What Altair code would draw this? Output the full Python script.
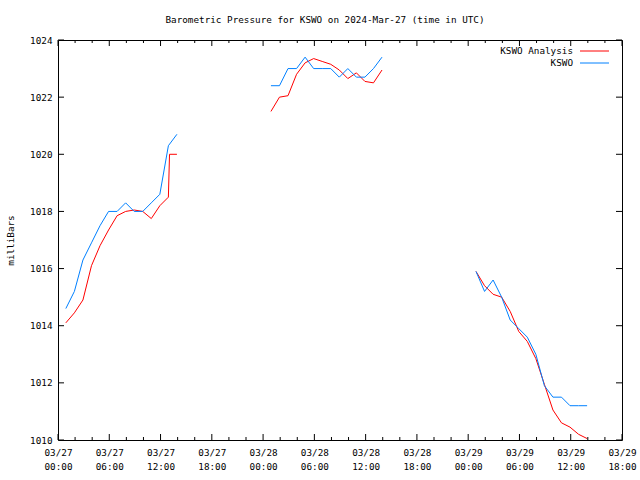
import altair as alt
import pandas as pd

TITLE = "Barometric Pressure for KSWO on 2024-Mar-27 (time in UTC)"
Y_TITLE = "milliBars"
FONT = "DejaVu Sans Mono"
FS = 9.3

series_names = ["KSWO Analysis", "KSWO"]
series_colors = ["#ff0000", "#0080ff"]

# ---- KSWO observations (blue) ----
obs_times_1 = ["2024-03-27T00:55:00Z", "2024-03-27T01:55:00Z", "2024-03-27T02:55:00Z", "2024-03-27T03:55:00Z",
               "2024-03-27T04:55:00Z", "2024-03-27T05:55:00Z", "2024-03-27T06:55:00Z", "2024-03-27T07:55:00Z",
               "2024-03-27T08:55:00Z", "2024-03-27T09:55:00Z", "2024-03-27T10:55:00Z", "2024-03-27T11:55:00Z",
               "2024-03-27T12:55:00Z", "2024-03-27T13:55:00Z"]
obs_vals_1 = [1014.6, 1015.2, 1016.3, 1016.9, 1017.5, 1018.0, 1018.0, 1018.3, 1018.0, 1018.0,
              1018.3, 1018.6, 1020.3, 1020.7]

obs_times_2 = ["2024-03-28T00:55:00Z", "2024-03-28T01:55:00Z", "2024-03-28T02:55:00Z", "2024-03-28T03:55:00Z",
               "2024-03-28T04:55:00Z", "2024-03-28T05:55:00Z", "2024-03-28T06:55:00Z", "2024-03-28T07:55:00Z",
               "2024-03-28T08:55:00Z", "2024-03-28T09:55:00Z", "2024-03-28T10:55:00Z", "2024-03-28T11:55:00Z",
               "2024-03-28T12:55:00Z", "2024-03-28T13:55:00Z"]
obs_vals_2 = [1022.4, 1022.4, 1023.0, 1023.0, 1023.4, 1023.0, 1023.0, 1023.0, 1022.7, 1023.0,
              1022.7, 1022.7, 1023.0, 1023.4]

obs_times_3 = ["2024-03-29T00:55:00Z", "2024-03-29T01:55:00Z", "2024-03-29T02:55:00Z", "2024-03-29T03:55:00Z",
               "2024-03-29T04:55:00Z", "2024-03-29T05:55:00Z", "2024-03-29T06:55:00Z", "2024-03-29T07:55:00Z",
               "2024-03-29T08:55:00Z", "2024-03-29T09:55:00Z", "2024-03-29T10:55:00Z", "2024-03-29T11:55:00Z",
               "2024-03-29T12:55:00Z", "2024-03-29T13:55:00Z"]
obs_vals_3 = [1015.9, 1015.2, 1015.6, 1015.0, 1014.2, 1013.9, 1013.6, 1013.0, 1011.9, 1011.5,
              1011.5, 1011.2, 1011.2, 1011.2]

# ---- KSWO Analysis (red) ----
ana_times_1 = ["2024-03-27T00:55:00Z", "2024-03-27T01:55:00Z", "2024-03-27T02:55:00Z", "2024-03-27T03:55:00Z",
               "2024-03-27T04:55:00Z", "2024-03-27T05:55:00Z", "2024-03-27T06:55:00Z", "2024-03-27T07:55:00Z",
               "2024-03-27T08:55:00Z", "2024-03-27T09:55:00Z", "2024-03-27T10:55:00Z", "2024-03-27T11:55:00Z",
               "2024-03-27T12:55:00Z", "2024-03-27T13:03:00Z", "2024-03-27T13:55:00Z"]
ana_vals_1 = [1014.1, 1014.45, 1014.9, 1016.1, 1016.8, 1017.35, 1017.85, 1018.0, 1018.05, 1018.0,
              1017.75, 1018.2, 1018.5, 1020.0, 1020.0]

ana_times_2 = obs_times_2
ana_vals_2 = [1021.5, 1022.0, 1022.05, 1022.8, 1023.2, 1023.35, 1023.25, 1023.15, 1022.95, 1022.65,
              1022.85, 1022.55, 1022.5, 1022.95]

ana_times_3 = obs_times_3
ana_vals_3 = [1015.9, 1015.4, 1015.1, 1015.0, 1014.5, 1013.8, 1013.45, 1012.85, 1011.95, 1011.05,
              1010.6, 1010.45, 1010.2, 1010.05]

y_ticks = [1010, 1012, 1014, 1016, 1018, 1020, 1022, 1024]


def frame(series, segments):
    rows = []
    for k, (times, vals) in enumerate(segments):
        for t, v in zip(times, vals):
            rows.append({"time": t, "value": v, "series": series, "segment": k})
    return pd.DataFrame(rows)


ana_df = frame(series_names[0], [(ana_times_1, ana_vals_1), (ana_times_2, ana_vals_2), (ana_times_3, ana_vals_3)])
obs_df = frame(series_names[1], [(obs_times_1, obs_vals_1), (obs_times_2, obs_vals_2), (obs_times_3, obs_vals_3)])

major = pd.date_range("2024-03-27T00:00:00Z", "2024-03-29T18:00:00Z", freq="6h")
minor_all = pd.date_range("2024-03-27T00:00:00Z", "2024-03-29T18:00:00Z", freq="2h")
minor = [t for t in minor_all if t.hour % 6 != 0]
major_df = pd.DataFrame({"time": [t.strftime("%Y-%m-%dT%H:%M:%SZ") for t in major]})
minor_df = pd.DataFrame({"time": [t.strftime("%Y-%m-%dT%H:%M:%SZ") for t in minor]})
ytick_df = pd.DataFrame({"value": y_ticks})

W, H = 564, 400

major_vals = [alt.DateTime(year=t.year, month=t.month, date=t.day, hours=t.hour, utc=True) for t in major]

x_scale = alt.Scale(type="utc",
                    domain=[alt.DateTime(year=2024, month=3, date=27, hours=0, utc=True),
                            alt.DateTime(year=2024, month=3, date=29, hours=18, utc=True)])
x_axis = alt.Axis(values=major_vals, ticks=False, tickSize=0, domain=False, grid=False, title=None,
                  labelExpr="[utcFormat(datum.value, '%m/%d'), utcFormat(datum.value, '%H:%M')]",
                  labelFont=FONT, labelFontSize=FS, labelColor="black", labelBaseline="top",
                  labelPadding=8, labelLineHeight=14, labelOverlap=False, labelFlush=False)
y_scale = alt.Scale(domain=[1010, 1024], nice=False, zero=False)
y_axis = alt.Axis(values=y_ticks, format="d", ticks=False, tickSize=0, domain=False, grid=False, title=Y_TITLE,
                  labelFont=FONT, labelFontSize=FS, labelColor="black", labelPadding=6,
                  titleFont=FONT, titleFontSize=FS, titleFontWeight="normal", titleColor="black",
                  titleAngle=270, titleX=-48, titleY=200, titleAlign="center", titleBaseline="middle")

X = alt.X("time:T", scale=x_scale, axis=x_axis)
Y = alt.Y("value:Q", scale=y_scale, axis=y_axis)
color_scale = alt.Scale(domain=series_names, range=series_colors)

red = alt.Chart(ana_df).mark_line(strokeWidth=1).encode(
    x=X, y=Y, color=alt.Color("series:N", scale=color_scale, legend=None), detail="segment:N")
blue = alt.Chart(obs_df).mark_line(strokeWidth=1).encode(
    x=X, y=Y, color=alt.Color("series:N", scale=color_scale, legend=None), detail="segment:N")

tick_layers = []
for df, ln in [(major_df, 6), (minor_df, 3)]:
    tick_layers.append(alt.Chart(df).mark_rule(color="black", strokeWidth=1).encode(
        x=X, y=alt.value(H), y2=alt.value(H - ln)))
    tick_layers.append(alt.Chart(df).mark_rule(color="black", strokeWidth=1).encode(
        x=X, y=alt.value(0), y2=alt.value(ln)))
tick_layers.append(alt.Chart(ytick_df).mark_rule(color="black", strokeWidth=1).encode(
    y=Y, x=alt.value(0), x2=alt.value(6)))
tick_layers.append(alt.Chart(ytick_df).mark_rule(color="black", strokeWidth=1).encode(
    y=Y, x=alt.value(W), x2=alt.value(W - 6)))

legend_layers = []
for i, (name, col) in enumerate(zip(series_names, series_colors)):
    ly = 11 + 12 * i
    ldf = pd.DataFrame({"name": [name]})
    legend_layers.append(alt.Chart(ldf).mark_text(align="right", baseline="middle", font=FONT,
                                                   fontSize=FS, color="black").encode(
        text="name:N", x=alt.value(515), y=alt.value(ly)))
    legend_layers.append(alt.Chart(ldf).mark_rule(color=col, strokeWidth=1).encode(
        x=alt.value(522), x2=alt.value(551), y=alt.value(ly)))

title_layer = alt.Chart(pd.DataFrame({"t": [TITLE]})).mark_text(
    align="center", baseline="middle", font=FONT, fontSize=FS, color="black").encode(
    text="t:N", x=alt.value(267), y=alt.value(-20))

chart = alt.layer(red, blue, *tick_layers, *legend_layers, title_layer).properties(
    width=W, height=H,
    autosize=alt.AutoSizeParams(type="none"),
    padding={"left": 58, "top": 40, "right": 18, "bottom": 40},
    background="white",
).configure_view(stroke="black", strokeWidth=1)

chart.save("out.html", embed_options={"renderer": "svg", "actions": False})
